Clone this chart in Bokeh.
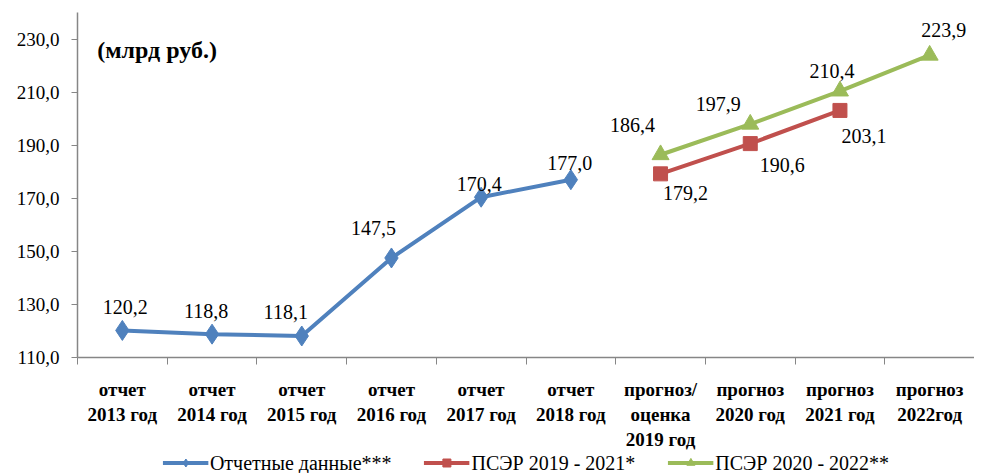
from bokeh.plotting import figure
from bokeh.layouts import column
from bokeh.models import (ColumnDataSource, Range1d, FixedTicker, Legend, LegendItem, Label)
from bokeh.core.properties import value
from bokeh.embed import file_html
from bokeh.resources import INLINE

categories = ["отчет\n2013 год", "отчет\n2014 год", "отчет\n2015 год", "отчет\n2016 год",
              "отчет\n2017 год", "отчет\n2018 год", "прогноз/\nоценка\n2019 год",
              "прогноз\n2020 год", "прогноз\n2021 год", "прогноз\n2022год"]
report_values = [120.2, 118.8, 118.1, 147.5, 170.4, 177.0]
psr_2019_2021 = [179.2, 190.6, 203.1]
psr_2020_2022 = [186.4, 197.9, 210.4, 223.9]
y_ticks = [110, 130, 150, 170, 190, 210, 230]

report_name = "Отчетные данные***"
psr1_name = "ПСЭР 2019 - 2021*"
psr2_name = "ПСЭР 2020 - 2022**"

FONT = "Liberation Serif"
BLUE, RED, GREEN = "#4F81BD", "#C0504D", "#9BBB59"
FS = "20px"

def fmt(v):
    return f"{v:.1f}".replace(".", ",")

xs = [i + 0.5 for i in range(len(categories))]

src_rep = ColumnDataSource(dict(x=xs[0:6], y=report_values, t=[fmt(v) for v in report_values],
                                dx=[3, -6, -16, -18, -2, -1], dy=[-23, -23, -24, -30, -13, -17]))
src_p1 = ColumnDataSource(dict(x=xs[6:9], y=psr_2019_2021, t=[fmt(v) for v in psr_2019_2021],
                               dx=[25, 32, 24], dy=[19, 21, 26]))
src_p2 = ColumnDataSource(dict(x=xs[6:10], y=psr_2020_2022, t=[fmt(v) for v in psr_2020_2022],
                               dx=[-28, -32, -8, 14], dy=[-30, -20, -20, -25]))

W = 974
p = figure(width=W, height=452, output_backend="svg", toolbar_location=None,
           x_range=Range1d(0, len(categories)), y_range=Range1d(110, 240),
           min_border_left=77, min_border_right=0, min_border_top=12, min_border_bottom=0)
p.outline_line_color = None
p.xgrid.visible = False
p.ygrid.visible = False

def draw(fig, src_a, src_b, src_c):
    a1 = fig.line("x", "y", source=src_a, color=BLUE, line_width=4)
    a2 = fig.scatter("x", "y", source=src_a, marker="diamond", size=20, color=BLUE)
    b1 = fig.line("x", "y", source=src_b, color=RED, line_width=4)
    b2 = fig.scatter("x", "y", source=src_b, marker="square", size=14, color=RED)
    c1 = fig.line("x", "y", source=src_c, color=GREEN, line_width=4)
    c2 = fig.scatter("x", "y", source=src_c, marker="triangle", size=17, color=GREEN)
    return (a1, a2), (b1, b2), (c1, c2)

draw(p, src_rep, src_p1, src_p2)

for src in (src_rep, src_p1, src_p2):
    p.text("x", "y", text="t", source=src, x_offset="dx", y_offset="dy",
           text_align="center", text_baseline="middle", text_font=value(FONT),
           text_font_size=value(FS), text_color="black")

p.add_layout(Label(x=0.22, y=226, text="(млрд руб.)", text_font=FONT,
                   text_font_size="24px", text_font_style="bold", text_align="left",
                   text_baseline="middle", text_color="black"))

# axes
ax = p.xaxis[0]
ax.ticker = FixedTicker(ticks=xs, minor_ticks=list(range(len(categories) + 1)))
ax.major_label_overrides = {x: c for x, c in zip(xs, categories)}
ax.major_tick_out = 0
ax.major_tick_in = 0
ax.minor_tick_out = 7
ax.minor_tick_in = 0
ax.minor_tick_line_color = "#868686"
ax.axis_line_color = "#868686"
ax.axis_line_width = 1.5
ax.major_label_text_font = FONT
ax.major_label_text_font_style = "bold"
ax.major_label_text_font_size = "19px"
ax.major_label_text_color = "black"
ax.major_label_standoff = 14

ay = p.yaxis[0]
ay.ticker = FixedTicker(ticks=y_ticks, minor_ticks=[])
ay.major_label_overrides = {t: fmt(t) for t in y_ticks}
ay.major_tick_out = 6
ay.major_tick_in = 0
ay.major_tick_line_color = "#868686"
ay.axis_line_color = "#868686"
ay.axis_line_width = 1.5
ay.major_label_text_font = FONT
ay.major_label_text_font_size = "19px"
ay.major_label_text_color = "black"
ay.major_label_standoff = 12

# legend strip
lg = figure(width=W, height=21, output_backend="svg", toolbar_location=None,
            x_range=Range1d(0, 1), y_range=Range1d(0, 1),
            min_border=0)
lg.axis.visible = False
lg.grid.visible = False
lg.outline_line_color = None
off = lambda: ColumnDataSource(dict(x=[-10, -9], y=[-10, -10]))
ra, rb, rc = draw(lg, off(), off(), off())
legend = Legend(items=[LegendItem(label=report_name, renderers=list(ra)),
                       LegendItem(label=psr1_name, renderers=list(rb)),
                       LegendItem(label=psr2_name, renderers=list(rc))],
                orientation="horizontal", location="center", glyph_width=46, glyph_height=20,
                label_text_font=FONT, label_text_font_size=FS,
                label_text_color="black",
                label_standoff=2, spacing=32, border_line_color=None, padding=0, margin=0,
                background_fill_alpha=0)
lg.add_layout(legend)

layout = column(p, lg, spacing=0)
open("out.html", "w").write(file_html(layout, INLINE))
